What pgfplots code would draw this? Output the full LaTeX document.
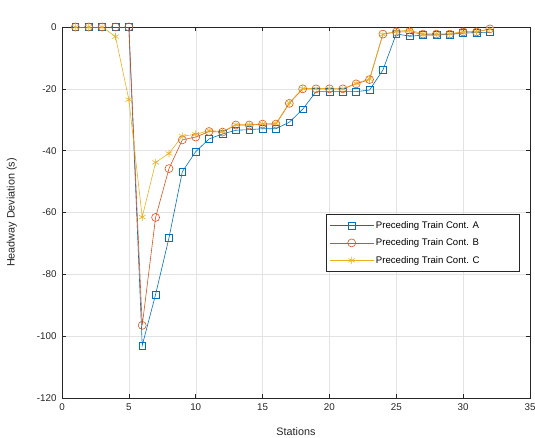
\documentclass[border=0pt]{standalone}
\usepackage{pgfplots}
\pgfplotsset{compat=1.18}
\usepackage{fontspec}
\setmainfont{Liberation Sans}
\definecolor{cA}{rgb}{0,0.447,0.741}
\definecolor{cB}{rgb}{0.85,0.325,0.098}
\definecolor{cC}{rgb}{0.929,0.694,0.125}
\definecolor{axc}{rgb}{0.15,0.15,0.15}
\begin{document}
\begin{tikzpicture}
\useasboundingbox (-62pt,-39pt) rectangle (473pt,398pt);
\begin{axis}[
  at={(0,0)}, anchor=south west,
  scale only axis, width=468pt, height=371pt,
  xmin=0, xmax=35, ymin=-120, ymax=0,
  xtick={0,5,...,35}, ytick={-120,-100,...,0},
  tick align=inside, tick style={axc, line width=0.5pt},
  major tick length=4pt,
  axis line style={axc, line width=0.6pt},
  grid=major, grid style={gray!22, line width=0.4pt},
  ticklabel style={font=\fontsize{9.8}{11}\selectfont, text=axc},
  xticklabel style={yshift=-2pt},
  yticklabel style={xshift=-2pt},
  /pgf/number format/assume math mode=true,
  xlabel={Stations}, ylabel={Headway Deviation (s)},
  label style={font=\fontsize{10.8}{12}\selectfont, text=axc},
  xlabel style={at={(axis description cs:0.5,-0.0916)}, anchor=center},
  ylabel style={at={(axis description cs:-0.107,0.5)}, anchor=center},
  legend style={at={(0.977,0.496)}, anchor=north east, draw=axc, line width=0.5pt,
    font=\fontsize{9.6}{11}\selectfont, row sep=5pt, inner xsep=3pt, inner ysep=5pt},
  legend cell align=left,
  legend image code/.code={\draw[mark repeat=2,mark phase=2,#1] plot coordinates {(0pt,0pt) (22pt,0pt) (44pt,0pt)};},
  every axis plot/.append style={line width=0.6pt},
]
\addplot[cA, mark=square, mark size=3.4pt, mark options={solid}] coordinates {
(1,0)(2,0)(3,0)(4,0)(5,0)(6,-103)(7,-86.5)(8,-68.2)(9,-46.8)(10,-40.3)
(11,-36.2)(12,-34.6)(13,-33.4)(14,-33.2)(15,-32.9)(16,-32.9)(17,-30.8)(18,-26.6)
(19,-20.9)(20,-20.9)(21,-20.9)(22,-20.9)(23,-20.4)(24,-13.9)(25,-2.2)(26,-3)
(27,-2.6)(28,-2.6)(29,-2.4)(30,-2)(31,-1.8)(32,-1.7)};
\addlegendentry{\makebox[138pt][l]{Preceding Train Cont. A}}
\addplot[cB, mark=o, mark size=4pt, mark options={solid}] coordinates {
(1,0)(2,0)(3,0)(4,0)(5,0)(6,-96.5)(7,-61.6)(8,-45.8)(9,-36.5)(10,-35.6)
(11,-33.8)(12,-34)(13,-31.7)(14,-31.7)(15,-31.4)(16,-31.4)(17,-24.7)(18,-20)
(19,-20)(20,-20)(21,-20)(22,-18.4)(23,-17)(24,-2.3)(25,-1.6)(26,-1.6)
(27,-2.3)(28,-2.3)(29,-2.3)(30,-1.6)(31,-1.6)(32,-0.6)};
\addlegendentry{\makebox[138pt][l]{Preceding Train Cont. B}}
\addplot[cC, mark=asterisk, mark size=3.8pt, mark options={solid}] coordinates {
(1,0)(2,0)(3,0)(4,-3.1)(5,-23.5)(6,-61.5)(7,-43.8)(8,-40.9)(9,-35.3)(10,-34.7)
(11,-33.5)(12,-33.8)(13,-31.6)(14,-31.6)(15,-31.3)(16,-31.2)(17,-24.5)(18,-19.9)
(19,-19.9)(20,-19.9)(21,-20)(22,-18.2)(23,-16.8)(24,-2.4)(25,-1.4)(26,-1.0)
(27,-2.2)(28,-2.2)(29,-2.2)(30,-1.5)(31,-1.5)(32,-0.7)};
\addlegendentry{\makebox[138pt][l]{Preceding Train Cont. C}}
\node[font=\bfseries\fontsize{9.9}{11}\selectfont, text=black, anchor=center] at (rel axis cs:0.415,1) [yshift=15pt] {Headway Deviation - Interstation (Train i+1)};
\end{axis}
\end{tikzpicture}
\end{document}
